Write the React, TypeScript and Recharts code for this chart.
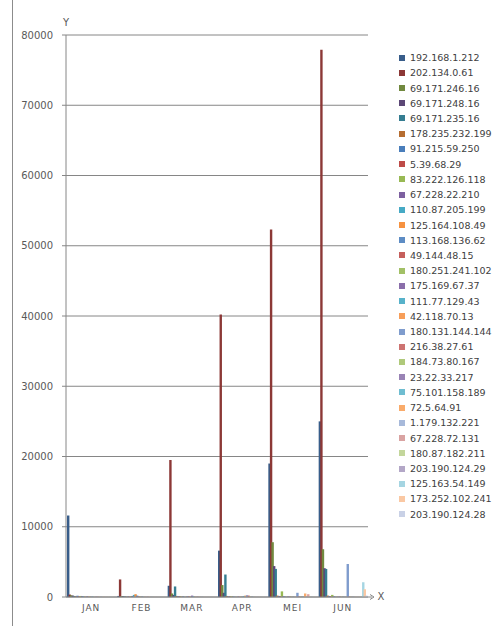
import React from 'react';
import { BarChart, Bar, XAxis, YAxis, CartesianGrid } from 'recharts';

const months = ['JAN', 'FEB', 'MAR', 'APR', 'MEI', 'JUN'];

const ipNames = [
  '192.168.1.212', '202.134.0.61', '69.171.246.16', '69.171.248.16', '69.171.235.16',
  '178.235.232.199', '91.215.59.250', '5.39.68.29', '83.222.126.118', '67.228.22.210',
  '110.87.205.199', '125.164.108.49', '113.168.136.62', '49.144.48.15', '180.251.241.102',
  '175.169.67.37', '111.77.129.43', '42.118.70.13', '180.131.144.144', '216.38.27.61',
  '184.73.80.167', '23.22.33.217', '75.101.158.189', '72.5.64.91', '1.179.132.221',
  '67.228.72.131', '180.87.182.211', '203.190.124.29', '125.163.54.149', '173.252.102.241',
  '203.190.124.28',
];

const yTicks = [0, 10000, 20000, 30000, 40000, 50000, 60000, 70000, 80000];
const edgeTicks = [0, 1, 2, 3, 4, 5, 6];

// values per month, one entry per IP (same order as ipNames)
const janValues = [11600, 350, 250, 200, 150, 120, 180, 100, 150, 120, 100, 80, 90, 60, 70, 50, 60, 40, 50, 40, 30, 30, 20, 30, 20, 20, 20, 15, 15, 10, 10];
const febValues = [150, 2500, 120, 100, 80, 60, 80, 60, 100, 150, 300, 400, 200, 100, 80, 60, 50, 40, 30, 30, 20, 20, 20, 20, 15, 15, 10, 10, 10, 10, 10];
const marValues = [1600, 19500, 500, 300, 1500, 150, 120, 100, 80, 80, 60, 60, 100, 80, 60, 200, 100, 60, 40, 40, 30, 30, 20, 20, 20, 20, 15, 15, 10, 10, 10];
const aprValues = [6600, 40200, 1700, 600, 3200, 150, 100, 80, 100, 60, 50, 40, 60, 50, 40, 60, 150, 200, 250, 200, 80, 60, 40, 30, 30, 20, 20, 15, 15, 10, 10];
const meiValues = [19000, 52300, 7800, 4400, 4000, 200, 150, 120, 800, 100, 80, 60, 80, 60, 50, 40, 40, 60, 600, 80, 60, 60, 80, 500, 100, 400, 60, 40, 40, 30, 20];
const junValues = [25000, 77900, 6800, 4100, 4000, 200, 150, 100, 300, 80, 60, 50, 60, 50, 40, 40, 40, 50, 4700, 60, 40, 40, 30, 30, 30, 30, 40, 30, 2100, 1100, 200];

const monthValues = [janValues, febValues, marValues, aprValues, meiValues, junValues];

const colors = [
  '#385D8A', '#8C3836', '#71893F', '#5C4776', '#357D91', '#B66D31',
  '#4A7EBB', '#BE4B48', '#98B954', '#7D60A0', '#46AAC5', '#F69240',
  '#5D8CC4', '#C55F5C', '#A2C066', '#8A6EAA', '#57B2CA', '#F79E59',
  '#7F9CCD', '#CD7371', '#AFC97A', '#9983B5', '#6FBDD1', '#F9AB6B',
  '#A7B9DA', '#D9A3A2', '#C3D69B', '#B3A7C7', '#A5D5E2', '#FAC8A3', '#C9D1E6',
];

const data = months.map((m, mi) => {
  const row: Record<string, any> = { month: m };
  ipNames.forEach((_, si) => {
    row['s' + si] = monthValues[mi][si];
  });
  return row;
});

const axisColor = '#868686';
const textColor = '#595959';

const yLabel = (props: any) => {
  const vb = props.viewBox;
  return (
    <text x={vb.x + vb.width} y={vb.y - 12} textAnchor="middle" dominantBaseline="middle" fontSize={10} fill={textColor}>
      Y
    </text>
  );
};

const xLabel = (props: any) => {
  const vb = props.viewBox;
  const ex = vb.x + vb.width;
  const ey = vb.y;
  return (
    <g>
      <line x1={ex} y1={ey} x2={ex + 4} y2={ey} stroke={axisColor} />
      <path d={`M${ex + 2},${ey - 2.5} L${ex + 6},${ey} L${ex + 2},${ey + 2.5}`} fill="none" stroke={axisColor} />
      <text x={ex + 13} y={ey} textAnchor="middle" dominantBaseline="middle" fontSize={10} fill={textColor}>
        X
      </text>
    </g>
  );
};

function LegendBox() {
  return (
    <div
      style={{
        position: 'absolute',
        left: 399,
        top: 50,
        width: 104,
        fontFamily: 'DejaVu Sans',
        fontSize: 9.5,
        color: '#404040',
      }}
    >
      {ipNames.map((n, i) => (
        <div key={n} style={{ height: 15.23, display: 'flex', alignItems: 'center', whiteSpace: 'nowrap' }}>
          <span
            style={{
              width: 6,
              height: 6,
              background: colors[i],
              marginRight: 5,
              display: 'inline-block',
              flexShrink: 0,
            }}
          />
          {n}
        </div>
      ))}
    </div>
  );
}

export default function App() {
  return (
    <div style={{ position: 'absolute', left: 0, top: 0, width: 503, height: 626, background: '#fff', fontFamily: 'DejaVu Sans' }}>
      <div style={{ position: 'absolute', left: 12, top: 0, width: 1, height: 626, background: '#8c8c8c' }} />
      <BarChart
        width={503}
        height={626}
        data={data}
        margin={{ top: 35, right: 135, bottom: 9, left: 12 }}
        barGap={-0.85}
        barCategoryGap={0}
      >
        <CartesianGrid vertical={false} stroke={axisColor} strokeDasharray="" />
        <XAxis
          xAxisId="edges"
          type="number"
          domain={[0, 6]}
          ticks={edgeTicks}
          tick={false}
          tickSize={4}
          tickLine={{ stroke: axisColor }}
          axisLine={false}
          height={0}
          allowDataOverflow
        />
        <XAxis
          dataKey="month"
          height={20}
          tickLine={false}
          tickSize={0}
          tickMargin={8}
          axisLine={{ stroke: axisColor }}
          tick={{ fill: textColor, fontSize: 9, letterSpacing: 1 }}
          interval={0}
          label={xLabel}
        />
        <YAxis
          width={54}
          domain={[0, 80000]}
          ticks={yTicks}
          interval={0}
          tickSize={4}
          tickMargin={9}
          axisLine={{ stroke: axisColor }}
          tickLine={{ stroke: axisColor }}
          tick={{ fill: textColor, fontSize: 10 }}
          label={yLabel}
        />
        {ipNames.map((n, i) => (
          <Bar
            key={n}
            dataKey={'s' + i}
            name={n}
            fill={colors[i]}
            barSize={2.4}
            isAnimationActive={false}
          />
        ))}
      </BarChart>
      <LegendBox />
    </div>
  );
}
